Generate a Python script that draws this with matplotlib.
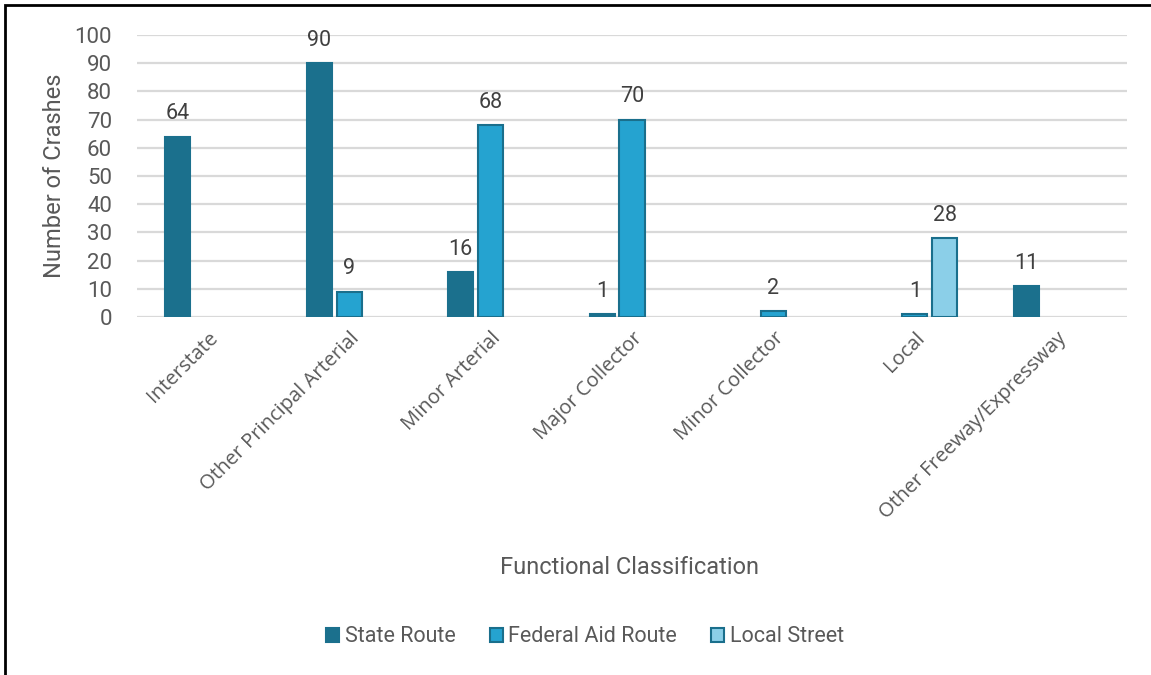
import numpy as np
import matplotlib
matplotlib.use('Agg')
import matplotlib.pyplot as plt
from matplotlib.patches import Rectangle

categories = ['Interstate', 'Other Principal Arterial', 'Minor Arterial',
              'Major Collector', 'Minor Collector', 'Local',
              'Other Freeway/Expressway']
state_route = [64, 90, 16, 1, None, None, 11]
federal_aid = [None, 9, 68, 70, 2, 1, None]
local_street = [None, None, None, None, None, 28, None]
y_ticks = [0, 10, 20, 30, 40, 50, 60, 70, 80, 90, 100]

narrow = ['Roboto', 'DejaVu Sans']
body = ['Open Sans', 'DejaVu Sans']
text_color = '#595959'

series = [
    ('State Route', state_route, '#1b708d', '#1b708d'),
    ('Federal Aid Route', federal_aid, '#25a3d0', '#1a6f8c'),
    ('Local Street', local_street, '#8bcfe8', '#1a6f8c'),
]

fig = plt.figure(figsize=(11.51, 6.75), dpi=100)
ax = fig.add_axes([137 / 1151, 1 - 317 / 675, 990 / 1151, 282 / 675])

x = np.arange(len(categories))
step = 0.212
width = 0.177
for i, (name, vals, face, edge) in enumerate(series):
    off = (i - 1) * step
    xs = [x[j] + off for j, v in enumerate(vals) if v is not None]
    hs = [v for v in vals if v is not None]
    bars = ax.bar(xs, hs, width=width, color=face, edgecolor=edge,
                  linewidth=1.5, label=name, zorder=3)
    for b, h in zip(bars, hs):
        ax.text(b.get_x() + b.get_width() / 2, h + 4.3, str(h),
                ha='center', va='bottom', fontsize=15.5, color='#404040',
                family=narrow, clip_on=False)

ax.set_xlim(-0.5, len(categories) - 0.5)
ax.set_ylim(0, 100)
ax.set_yticks(y_ticks)
ax.yaxis.grid(True, color='#d9d9d9', linewidth=1.6, zorder=0)
ax.set_axisbelow(True)
for s in ax.spines.values():
    s.set_visible(False)
ax.tick_params(axis='y', length=0, pad=18, labelsize=16, labelcolor=text_color)
ax.tick_params(axis='x', length=0, pad=8)
for lab in ax.get_yticklabels():
    lab.set_family(narrow)

ax.set_xticks(x)
ax.set_xticklabels(categories, rotation=45, ha='right', va='top',
                   rotation_mode='anchor', fontsize=14.5, color=text_color,
                   family=body)

ax.set_ylabel('Number of Crashes', fontsize=17, color=text_color,
              family=narrow, labelpad=6)
fig.text(630 / 1151, 1 - 567 / 675, 'Functional Classification',
         ha='center', va='center', fontsize=17, color=text_color, family=narrow)

handles, labels = ax.get_legend_handles_labels()
leg = fig.legend(handles, labels, loc='center', ncol=3,
                 bbox_to_anchor=(585 / 1151, 1 - 637 / 675), frameon=False,
                 prop={'family': narrow, 'size': 15.5}, handlelength=0.6,
                 handleheight=0.6, handletextpad=0.25, columnspacing=1.6)
for t in leg.get_texts():
    t.set_color(text_color)

fig.patches.append(Rectangle((5 / 1151, -0.05), 1.1, 1 - 5 / 675 + 0.05,
                             transform=fig.transFigure, fill=False,
                             edgecolor='black', linewidth=2))

fig.savefig('out.png', dpi=100)
